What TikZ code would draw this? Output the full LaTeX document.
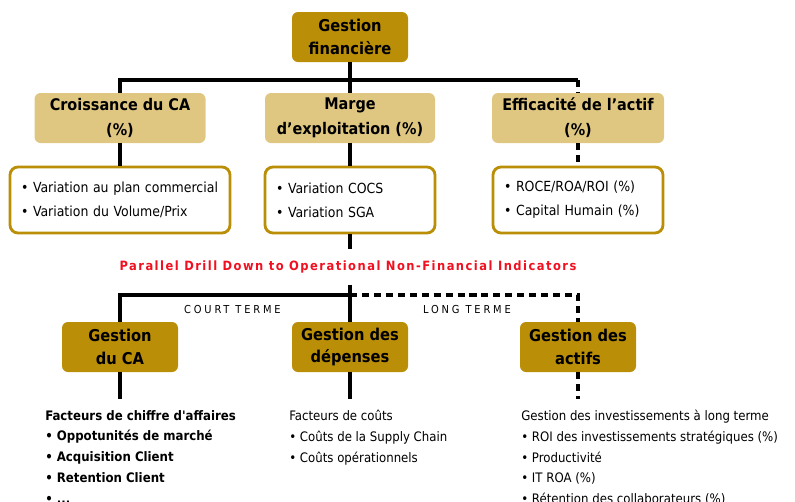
\documentclass[tikz,border=0pt]{standalone}
\usepackage{fontspec}
\setmainfont{DejaVu Sans Condensed}
\definecolor{orfonce}{HTML}{BA8E06}
\definecolor{orclair}{HTML}{E0C781}
\definecolor{rouge}{HTML}{F01020}
\tikzset{%
		titre/.style={fill=orfonce,rounded corners=.15cm,minimum width=2.9cm,minimum height=1.25cm,inner sep=0pt,align=center,font=\fontsize{11.6}{16}\selectfont\bfseries},
		rubrique/.style={fill=orclair,rounded corners=.15cm,minimum height=1.25cm,inner sep=0pt,align=center,font=\fontsize{11.4}{17.6}\selectfont\bfseries},
		liste/.style={draw=orfonce,line width=2pt,rounded corners=.2cm,fill=white,minimum height=1.65cm,inner xsep=.275cm,align=left,font=\fontsize{9.9}{17}\selectfont},
		facteurs/.style={anchor=north west,inner xsep=0pt,inner ysep=.27cm,align=left,font=\fontsize{9.3}{14.8}\selectfont},
		terme/.style={font=\fontsize{7.8}{9}\selectfont\addfontfeature{LetterSpace=26}},
		lien/.style={draw,line width=2.2pt},
		lienlong/.style={lien,dash pattern=on 5pt off 3.5pt}
	}

\begin{document}
\begin{tikzpicture}
    \useasboundingbox (0,0) rectangle (19.875,-12.55) ;
    \node[titre] (fin) at (8.75,-.925) {Gestion\\financière} ;
    \node[rubrique,minimum width=4.275cm] (croiss) at (3,-2.95) {Croissance du CA\\(\%)} ;
    \node[rubrique,minimum width=4.25cm] (marge) at (8.75,-2.95) {Marge\\d’exploitation (\%)} ;
    \node[rubrique,minimum width=4.3cm] (effic) at (14.45,-2.95) {Efficacité de l’actif\\(\%)} ;
    \node[liste,text width=4.95cm] (liste1) at (3,-5) {• Variation au plan commercial\\• Variation du Volume/Prix} ;
    \node[liste,text width=3.7cm] (liste2) at (8.75,-5) {• Variation COCS\\• Variation SGA} ;
    \node[liste,text width=3.7cm] (liste3) at (14.45,-5) {• ROCE/ROA/ROI (\%)\\• Capital Humain (\%)} ;
    \node[minimum height=.875cm,inner sep=0pt,text=rouge,font=\fontsize{9.1}{10}\selectfont\bfseries\addfontfeature{LetterSpace=11.5}] (drill) at (8.7,-6.675) {Parallel Drill Down to Operational Non-Financial Indicators} ;
    \node[titre] (ca) at (3,-8.675) {Gestion\\du CA} ;
    \node[titre] (depenses) at (8.75,-8.675) {Gestion des\\dépenses} ;
    \node[titre] (actifs) at (14.45,-8.675) {Gestion des\\actifs} ;
    \node[terme] (court) at (5.81,-7.75) {COURT TERME} ;
    \node[terme] (long) at (11.675,-7.75) {LONG TERME} ;
    \node[facteurs,font=\fontsize{9.3}{14.8}\selectfont\bfseries] (factca) at (1.125,-9.975) {Facteurs de chiffre d\textquotesingle affaires\\• Oppotunités de marché\\• Acquisition Client\\• Retention Client\\• ...} ;
    \node[facteurs] (factcouts) at (7.225,-9.975) {Facteurs de coûts\\• Coûts de la Supply Chain\\• Coûts opérationnels} ;
    \node[facteurs] (invest) at (13.025,-9.975) {Gestion des investissements à long terme\\• ROI des investissements stratégiques (\%)\\• Productivité\\• IT ROA (\%)\\• Rétention des collaborateurs (\%)} ;
    \coordinate (bus) at (8.75,-2) ;
    \coordinate (bas) at (8.75,-7.375) ;
    \draw[lien] (fin) -- (marge) ;
    \draw[lien] (croiss) |- (bus) -- (bus -| effic) ;
    \draw[lienlong] (bus -| effic) -- (effic) ;
    \draw[lien] (croiss) -- (liste1) ;
    \draw[lien] (marge) -- (liste2) ;
    \draw[lienlong] (effic) -- (liste3) ;
    \draw[lien] (liste2) -- (liste2 |- drill.north) ;
    \draw[lien] (depenses |- drill.south) -- (depenses) ;
    \draw[lien] (ca) |- (bas) ;
    \draw[lienlong] (bas) -| (actifs) ;
    \draw[lien] (ca) -- (ca |- factca.north) ;
    \draw[lien] (depenses) -- (depenses |- factcouts.north) ;
    \draw[lienlong] (actifs) -- (actifs |- invest.north) ;
\end{tikzpicture}
\end{document}
